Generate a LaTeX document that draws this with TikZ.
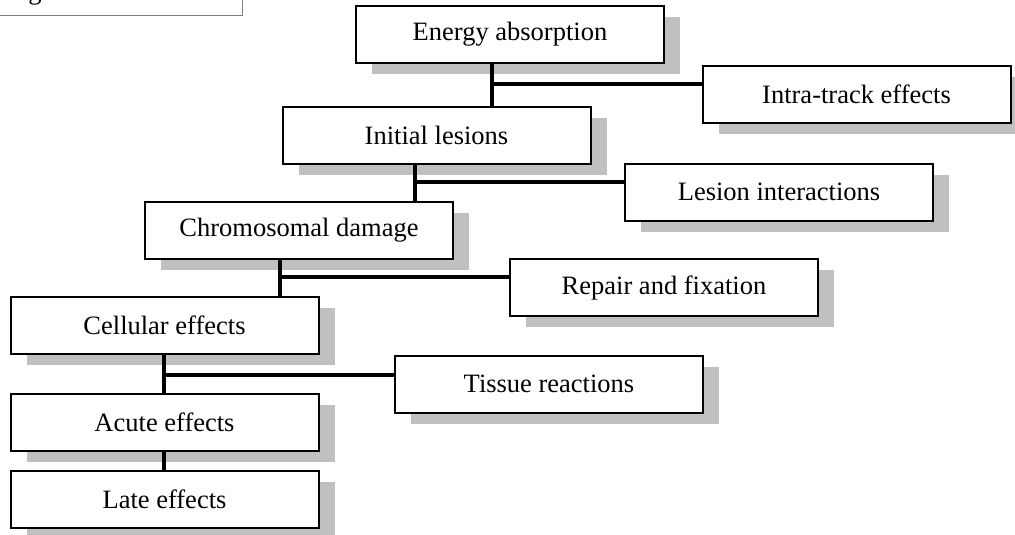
\documentclass[tikz,border=0pt]{standalone}
\usepackage{fontspec}
\setmainfont{Liberation Serif}
\usetikzlibrary{shadows}
\definecolor{shad}{HTML}{C0C0C0}
\definecolor{figline}{HTML}{808080}
\tikzset{
  flowbox/.style={draw=black, line width=2pt, fill=white, minimum width=308pt, minimum height=57pt,
    inner sep=0pt, font=\fontsize{26.5pt}{30pt}\selectfont,
    drop shadow={shadow xshift=16pt, shadow yshift=-11pt, fill=shad, opacity=1}},
  link/.style={draw=black, line width=4pt}
}
\begin{document}
\begin{tikzpicture}[x=1pt,y=-1pt]
\useasboundingbox (0,0) rectangle (1015,535);
% figure label box (cropped at the top edge, as in the reference)
\draw[figline, line width=1pt] (-10,-40) rectangle (242,16);
\node[anchor=base west, inner sep=0pt, font=\fontsize{26.5pt}{30pt}\selectfont] (fig) at (6,0) {Figure 9};
% boxes
\node[flowbox] (energy) at (510,34.5) {Energy absorption};
\node[flowbox] (intra) at (856.5,94.5) {Intra-track effects};
\node[flowbox] (initial) at (436.5,135.5) {Initial lesions};
\node[flowbox] (lesion) at (779,192) {Lesion interactions};
\node[flowbox] (chrom) at (299,230) {Chromosomal damage};
\node[flowbox] (repair) at (664,287.5) {Repair and fixation};
\node[flowbox] (cell) at (164.5,325.5) {Cellular effects};
\node[flowbox] (tissue) at (549,384) {Tissue reactions};
\node[flowbox] (acute) at (164.5,422) {Acute effects};
\node[flowbox] (late) at (164.5,499) {Late effects};
% junctions
\coordinate (j1) at (492,84);
\coordinate (j2) at (415,182);
\coordinate (j3) at (280,277);
\coordinate (j4) at (164,375);
% connectors
\draw[link] (energy.south -| j1) -- (initial.north -| j1);
\draw[link] (j1) -- (intra.west |- j1);
\draw[link] (initial.south -| j2) -- (chrom.north -| j2);
\draw[link] (j2) -- (lesion.west |- j2);
\draw[link] (chrom.south -| j3) -- (cell.north -| j3);
\draw[link] (j3) -- (repair.west |- j3);
\draw[link] (cell.south -| j4) -- (acute.north -| j4);
\draw[link] (j4) -- (tissue.west |- j4);
\draw[link] (acute.south -| j4) -- (late.north -| j4);
\end{tikzpicture}
\end{document}
